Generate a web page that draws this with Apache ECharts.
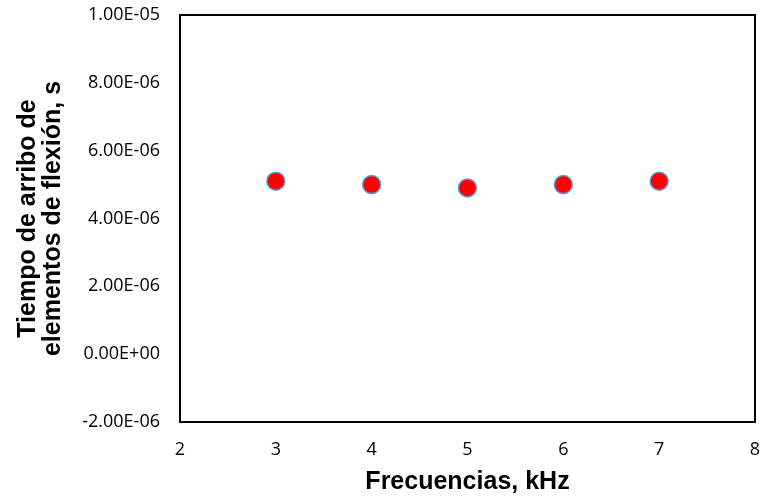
<!DOCTYPE html>
<html>
<head>
<meta charset="utf-8">
<script src="https://cdn.jsdelivr.net/npm/echarts@6/dist/echarts.min.js"></script>
<style>
  html, body { margin: 0; padding: 0; background: #fff; }
  #chart { width: 760px; height: 496px; }
</style>
</head>
<body>
<div id="chart"></div>
<script>
// Arrival time of flexural elements versus excitation frequency
const frequencies = [3, 4, 5, 6, 7];          // kHz
const arrivalTimes = [5.1e-6, 5.0e-6, 4.9e-6, 5.0e-6, 5.1e-6]; // s

const xTitle = 'Frecuencias, kHz';
const yTitle = 'Tiempo de arribo de\nelementos de flexión, s';

// Excel-style scientific notation: 1.00E-05, 0.00E+00
function sci(v) {
  if (Math.abs(v) < 1e-15) v = 0;
  const s = v.toExponential(2);
  const [mant, exp] = s.split('e');
  const sign = exp[0] === '-' ? '-' : '+';
  const digits = exp.replace(/[+-]/, '').padStart(2, '0');
  return mant + 'E' + sign + digits;
}

const chart = echarts.init(document.getElementById('chart'), null, { renderer: 'canvas' });

chart.setOption({
  animation: false,
  backgroundColor: '#fff',
  grid: {
    left: 180, right: 5, top: 15, bottom: 74,
    outerBoundsMode: 'none',
    containLabel: false,
    show: true, borderColor: '#000', borderWidth: 2, backgroundColor: 'transparent'
  },
  xAxis: {
    type: 'value',
    min: 2, max: 8, interval: 1,
    axisLine: { show: true, onZero: false, lineStyle: { color: '#000', width: 2 } },
    axisTick: { show: false },
    splitLine: { show: false },
    axisLabel: { color: '#000', fontFamily: 'Open Sans', fontSize: 18, margin: 19 },
    name: xTitle,
    nameLocation: 'middle',
    nameGap: 48,
    nameTextStyle: { color: '#000', fontFamily: 'Liberation Sans', fontWeight: 'bold', fontSize: 25 }
  },
  yAxis: {
    type: 'value',
    min: -2e-6, max: 1e-5, interval: 2e-6,
    axisLine: { show: true, lineStyle: { color: '#000', width: 2 } },
    axisTick: { show: false },
    splitLine: { show: false },
    axisLabel: { color: '#000', fontFamily: 'Open Sans', fontSize: 18, margin: 20, formatter: sci },
    name: yTitle,
    nameLocation: 'middle',
    nameRotate: 90,
    nameGap: 114,
    nameTextStyle: { color: '#000', fontFamily: 'Liberation Sans', fontWeight: 'bold', fontSize: 25, lineHeight: 25 }
  },
  series: [{
    type: 'scatter',
    data: frequencies.map((f, i) => [f, arrivalTimes[i]]),
    symbol: 'circle',
    symbolSize: 18,
    itemStyle: { color: '#FF0000', borderColor: '#5B9BD5', borderWidth: 1.5, opacity: 1 }
  }]
});
</script>
</body>
</html>
